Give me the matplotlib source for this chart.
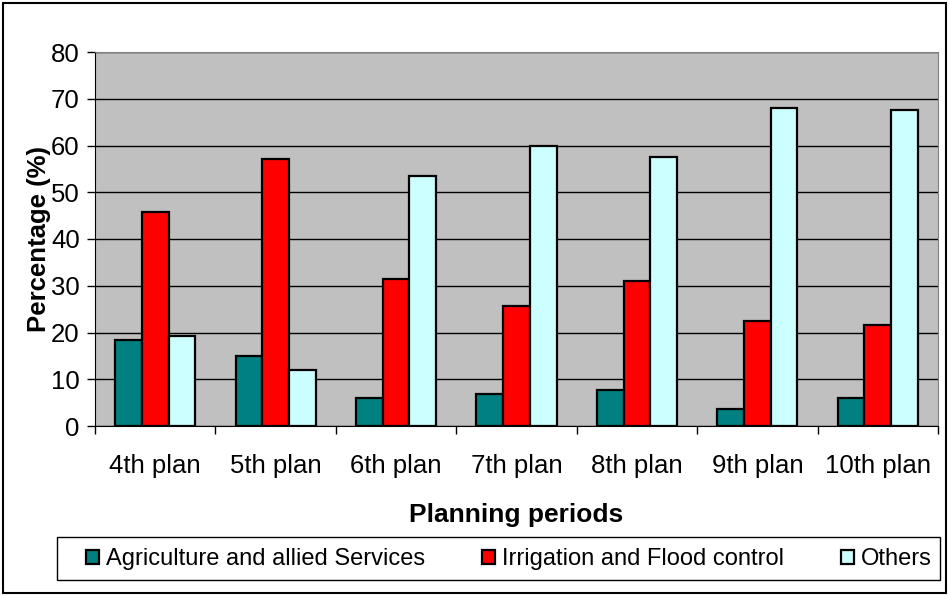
import matplotlib.pyplot as plt
import numpy as np
from matplotlib.patches import Rectangle

plt.rcParams['font.family'] = ['Liberation Sans', 'DejaVu Sans']

plans = ['4th plan', '5th plan', '6th plan', '7th plan', '8th plan', '9th plan', '10th plan']
agriculture = [18.5, 14.9, 6.0, 6.8, 7.6, 3.6, 6.0]
irrigation = [45.8, 57.2, 31.4, 25.7, 31.0, 22.5, 21.7]
others = [19.2, 12.0, 53.5, 59.8, 57.5, 68.0, 67.6]

series = [('Agriculture and allied Services', agriculture, '#008080'),
          ('Irrigation and Flood control', irrigation, '#FF0000'),
          ('Others', others, '#CCFFFF')]

fig = plt.figure(figsize=(9.5, 5.96), dpi=100)
ax = fig.add_axes([95/950, 1-426/596, 843/950, 374/596])
ax.set_facecolor('#C0C0C0')

x = np.arange(len(plans))
w = 0.222
for i, (name, vals, col) in enumerate(series):
    ax.bar(x + (i-1)*w, vals, w, color=col, edgecolor='black', linewidth=1.6, label=name, zorder=3)

ax.set_xlim(-0.5, len(plans)-0.5)
ax.set_ylim(0, 80)
ax.set_yticks(range(0, 81, 10))
ax.yaxis.grid(True, color='black', linewidth=1, zorder=1)
ax.set_xticks(x)
ax.set_xticklabels(plans, fontsize=18.5)
ax.set_xticks(np.arange(-0.5, len(plans), 1), minor=True)
ax.tick_params(axis='x', which='major', length=0, pad=20)
ax.tick_params(axis='x', which='minor', length=6, width=1, color='black')
ax.tick_params(axis='y', labelsize=18.5, length=6, width=1, color='black', pad=5)
for s in ['top', 'right']:
    ax.spines[s].set_color('#808080')
ax.spines['left'].set_color('black')
ax.spines['bottom'].set_color('black')

ax.set_xlabel('Planning periods', fontsize=19, fontweight='bold', labelpad=18)
ax.set_ylabel('Percentage (%)', fontsize=18.5, fontweight='bold', labelpad=0)

# legend box drawn separately so the entries can sit centred inside it
fig.patches.append(Rectangle((57/950, 1-580/596), 883/950, 43/596, transform=fig.transFigure,
                             fill=False, edgecolor='black', linewidth=1))
fig.legend(loc='center', bbox_to_anchor=(509/950, 1-559/596), ncol=3, fontsize=17,
           frameon=False, handlelength=0.55, handleheight=0.55, handletextpad=0.3,
           columnspacing=2.4, borderaxespad=0)

fig.patches.append(Rectangle((3/950, 3/596), 943/950, 590/596, transform=fig.transFigure,
                             fill=False, edgecolor='black', linewidth=1.5))

fig.savefig('out.png')
